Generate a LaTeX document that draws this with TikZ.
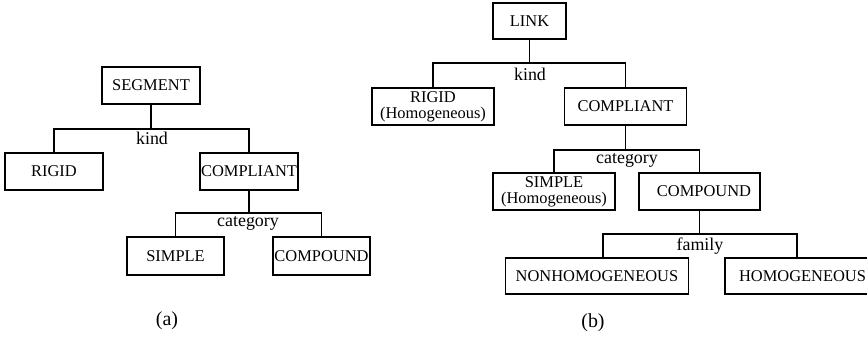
\documentclass[tikz,border=0pt]{standalone}
\usepackage{fontspec}
\setmainfont{Liberation Serif}
\begin{document}
\begin{tikzpicture}[x=1bp,y=-1bp,
  box/.style={draw,line width=1.7bp,minimum height=37bp,inner sep=0pt,
    font=\fontsize{16.5}{16}\selectfont,align=center},
  lbl/.style={inner sep=0pt,anchor=base,font=\fontsize{18}{18}\selectfont},
  captionlbl/.style={inner sep=0pt,anchor=base,font=\fontsize{20}{20}\selectfont},
  conn/.style={line width=1.7bp}]
\useasboundingbox (0,0) rectangle (867,336);

% ---------- (a) ----------
\node[box,minimum width=98bp] (seg) at (151,85.5) {SEGMENT};
\node[box,minimum width=98bp] (rigida) at (54,171.5) {RIGID};
\node[box,minimum width=98bp] (compla) at (249,171.5) {COMPLIANT};
\node[box,minimum width=97bp,minimum height=38bp] (simpa) at (175.5,256) {SIMPLE};
\node[box,minimum width=97bp,minimum height=38bp] (compoa) at (321.5,256) {COMPOUND};

\coordinate (ka) at (seg.south |- 0,129);
\coordinate (ca) at (compla.south |- 0,213);
\draw[conn] (seg.south) -- (ka);
\draw[conn] (rigida.north) |- (ka) -| (compla.north);
\draw[conn] (compla.south) -- (ca);
\draw[conn] (simpa.north) |- (ca) -| (compoa.north);
\node[lbl] (kindlbla) at (152,144) {kind};
\node[lbl] (catlbla) at (248,226.5) {category};
\node[captionlbl] (capa) at (167,325) {(a)};

% ---------- (b) ----------
\node[box,minimum width=73bp,minimum height=36bp] (link) at (529.5,21) {LINK};
\node[box,minimum width=122bp] (rigidb) at (433,106.5) {RIGID\\(Homogeneous)};
\node[box,minimum width=122bp] (complb) at (625.5,106.5) {COMPLIANT};
\node[box,minimum width=122bp] (simpb) at (554,191.5) {SIMPLE\\(Homogeneous)};
\node[box,minimum width=121bp] (compob) at (699.5,191.5) {\hspace*{9bp}COMPOUND};
\node[box,minimum width=183bp,minimum height=36bp] (nonh) at (597,276) {NONHOMOGENEOUS};
\node[box,minimum width=155bp,minimum height=36bp] (homo) at (802.5,276) {HOMOGENEOUS};

\coordinate (kb) at (link.south |- 0,63);
\coordinate (cb) at (complb.south |- 0,150);
\coordinate (fm) at (compob.south |- 0,234);
\coordinate (fl) at (603,234);
\coordinate (fr) at (797,234);
\draw[conn] (link.south) -- (kb);
\draw[conn] (rigidb.north) |- (kb) -| (complb.north);
\draw[conn] (complb.south) -- (cb);
\draw[conn] (simpb.north) |- (cb) -| (compob.north);
\draw[conn] (compob.south) -- (fm);
\draw[conn] (fl |- nonh.north) -- (fl) -- (fr) -- (fr |- homo.north);
\node[lbl] (kindlblb) at (530,80) {kind};
\node[lbl] (catlblb) at (627,163) {category};
\node[lbl] (famlbl) at (700,250.5) {family};
\node[captionlbl] (capb) at (593,327) {(b)};
\end{tikzpicture}
\end{document}
